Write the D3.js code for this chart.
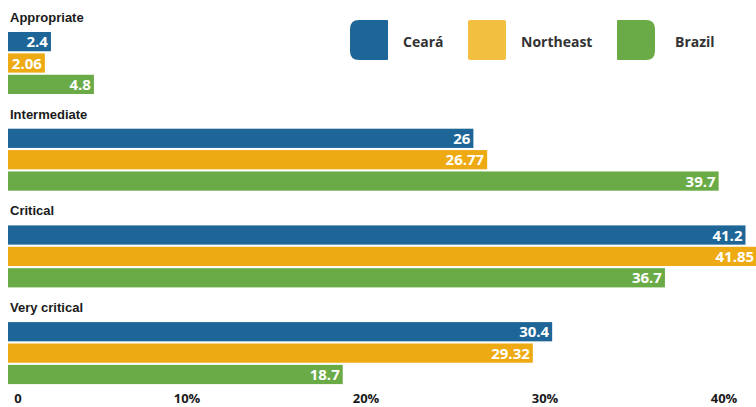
<!DOCTYPE html>
<html><head><meta charset="utf-8">
<script src="https://cdn.jsdelivr.net/npm/d3@7"></script>
<style>body{margin:0;background:#fff}svg{display:block}</style>
</head><body>
<script>
const categories = ["Appropriate", "Intermediate", "Critical", "Very critical"];
const seriesNames = ["Ceará", "Northeast", "Brazil"];
const ceara = [2.4, 26, 41.2, 30.4];
const northeast = [2.06, 26.77, 41.85, 29.32];
const brazil = [4.8, 39.7, 36.7, 18.7];
const valueLabels = [["2.4","26","41.2","30.4"],["2.06","26.77","41.85","29.32"],["4.8","39.7","36.7","18.7"]];
const tickValues = [0, 10, 20, 30, 40];
const tickLabels = ["0", "10%", "20%", "30%", "40%"];
const colors = ["#1d6697", "#eeaa12", "#6aab47"];
const legendColors = ["#1d6697", "#f3bf3f", "#6aab47"];

const W = 756, H = 407;
const svg = d3.select("body").append("svg").attr("width", W).attr("height", H);
const series = [ceara, northeast, brazil];

const x = d3.scaleLinear().domain([0, 40]).range([8, 724]);
const yGroup = d3.scaleBand().domain(categories).range([32, 32 + 4 * 96.7]);
const yInner = d3.scaleBand().domain(d3.range(3)).range([0, 62]).paddingInner(0.1);

const g = svg.selectAll("g.cat").data(categories).join("g")
  .attr("transform", d => `translate(0,${yGroup(d)})`);

g.append("text").text(d => d)
  .attr("x", 10).attr("y", -10)
  .attr("font-family", "Liberation Sans, Arial, sans-serif")
  .attr("font-weight", "bold").attr("font-size", 13).attr("fill", "#1a1a1a");

g.each(function(cat, ci) {
  const gg = d3.select(this);
  series.forEach((s, si) => {
    gg.append("rect")
      .attr("x", x(0)).attr("y", yInner(si))
      .attr("width", x(s[ci]) - x(0)).attr("height", yInner.bandwidth())
      .attr("fill", colors[si]);
    gg.append("text").text(valueLabels[si][ci])
      .attr("x", x(s[ci]) - 3).attr("y", yInner(si) + yInner.bandwidth() / 2 + 5.5)
      .attr("text-anchor", "end")
      .attr("font-family", "Open Sans, sans-serif").attr("font-weight", "bold")
      .attr("font-size", 15).attr("fill", "#fff");
  });
});

// axis labels
svg.selectAll("text.tick").data(tickValues).join("text")
  .text((d, i) => tickLabels[i])
  .attr("x", (d, i) => i === 0 ? x(d) + 10 : x(d))
  .attr("y", 403)
  .attr("text-anchor", "middle")
  .attr("font-family", "Open Sans, sans-serif").attr("font-weight", "bold")
  .attr("font-size", 13).attr("fill", "#1a1a1a");

// legend
const legendX = [350, 468, 617];
const legendTextX = [403, 521, 675];
function swatch(x0, y0, w, h, rl, rr) {
  return `M${x0 + rl},${y0} L${x0 + w - rr},${y0} Q${x0 + w},${y0} ${x0 + w},${y0 + rr}` +
    ` L${x0 + w},${y0 + h - rr} Q${x0 + w},${y0 + h} ${x0 + w - rr},${y0 + h}` +
    ` L${x0 + rl},${y0 + h} Q${x0},${y0 + h} ${x0},${y0 + h - rl}` +
    ` L${x0},${y0 + rl} Q${x0},${y0} ${x0 + rl},${y0} Z`;
}
const radii = [[9, 1], [2, 2], [1, 9]];
seriesNames.forEach((n, i) => {
  svg.append("path").attr("d", swatch(legendX[i], 20, 38, 40, radii[i][0], radii[i][1]))
    .attr("fill", legendColors[i]);
  svg.append("text").text(n).attr("x", legendTextX[i]).attr("y", 47)
    .attr("font-family", "Open Sans, sans-serif").attr("font-weight", "bold")
    .attr("font-size", 14).attr("fill", "#333");
});
</script>
</body></html>
